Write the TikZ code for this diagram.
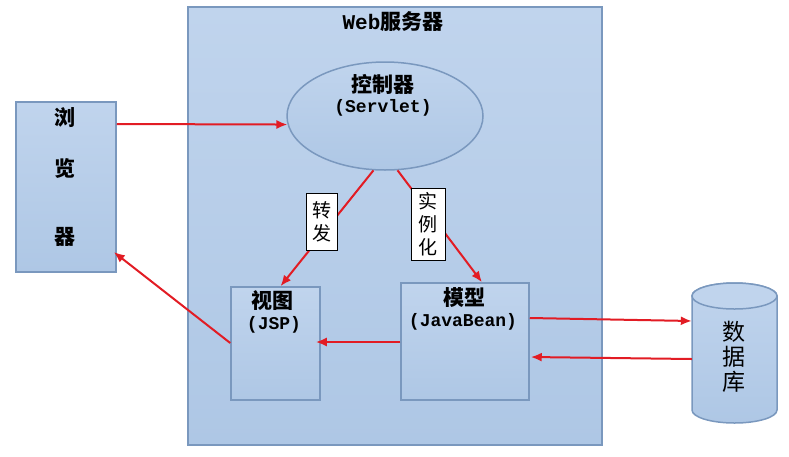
\documentclass[tikz,border=0pt]{standalone}
\usepackage{fontspec}
\setmainfont{Noto Sans CJK SC}
\newfontfamily\monofam{Liberation Mono}
\usetikzlibrary{arrows.meta,calc,shapes.geometric}
\definecolor{boxtop}{RGB}{192,212,237}
\definecolor{boxbot}{RGB}{174,199,229}
\definecolor{boxline}{RGB}{122,152,190}
\definecolor{arr}{RGB}{226,28,36}
\begin{document}
\begin{tikzpicture}[x=1pt,y=-1pt,
  blue box/.style={draw=boxline,line width=1.5pt,top color=boxtop,bottom color=boxbot,inner sep=0pt},
  cjkb/.style={font=\fontsize{21}{24}\selectfont\bfseries,inner sep=0pt},
  latin/.style={font=\fontsize{18}{20}\monofam\bfseries,inner sep=0pt},
  tag/.style={draw=black,line width=0.9pt,fill=white,inner sep=0pt,align=center,font=\fontsize{19}{23}\selectfont},
  conn/.style={draw=arr,line width=2pt,-{Latex[length=11pt,width=9pt]}}]
\useasboundingbox (0,0) rectangle (789,456);
% Web server
\node[blue box,minimum width=414pt,minimum height=438pt] (server) at (395,226) {};
\node[cjkb] (srvtitle) at (393,22) {{\monofam\bfseries Web}服务器};
% browser
\node[blue box,minimum width=100pt,minimum height=170pt] (browser) at (66,187) {};
\node[cjkb] (b1) at (65,118) {浏};
\node[cjkb] (b2) at (65,168) {览};
\node[cjkb] (b3) at (65,237) {器};
% controller
\node[blue box,ellipse,minimum width=196pt,minimum height=108pt] (ctrl) at (385,116) {};
\node[cjkb] (ctrlt) at (383,84) {控制器};
\node[latin] (ctrls) at (383,108) {(Servlet)};
% view
\node[blue box,minimum width=89pt,minimum height=113pt] (view) at (275.5,343.5) {};
\node[cjkb] (viewt) at (272,301) {视图};
\node[latin] (views) at (274,325) {(JSP)};
% model
\node[blue box,minimum width=128pt,minimum height=117pt] (model) at (465,341.5) {};
\node[cjkb] (modelt) at (464,298) {模型};
\node[latin] (models) at (463,322) {(JavaBean)};
% database
\fill[top color=boxtop,bottom color=boxbot]
  (692,296) -- (692,410) arc[start angle=180,end angle=360,x radius=42.5pt,y radius=13pt]
  -- (777,296) arc[start angle=0,end angle=180,x radius=42.5pt,y radius=13pt] -- cycle;
\draw[boxline,line width=1.5pt]
  (692,296) -- (692,410) arc[start angle=180,end angle=360,x radius=42.5pt,y radius=13pt]
  -- (777,296) arc[start angle=0,end angle=180,x radius=42.5pt,y radius=13pt];
\draw[boxline,line width=1.5pt,fill=boxtop] (734.5,296) ellipse[x radius=42.5pt,y radius=13pt];
\node[inner sep=0pt,minimum width=85pt,minimum height=140pt] (db) at (734.5,353) {};
\node[font=\fontsize{23}{25}\selectfont,inner sep=0pt,align=center] (dbt) at (734,357) {数\\据\\库};
% connectors
\draw[conn] (browser.east |- 0,124) -- (ctrl.185);
\draw[conn] (ctrl.258) -- ($(view.north)+(5,0)$);
\draw[conn] (ctrl.283) -- ($(model.north)+(17,0)$);
\draw[conn] (model.west |- 0,342) -- ($(view.east |- 0,342)+(-5,0)$);
\draw[conn] (view.west |- 0,343) -- ($(browser.east |- 0,252)+(-3,0)$);
\draw[conn] (model.east |- 0,318) -- (db.west |- 0,321);
\draw[conn] (db.west |- 0,359) -- ($(model.east |- 0,357)+(1,0)$);
% tags
\node[tag,minimum width=31pt,minimum height=57pt] (fwd) at (321.5,221.5) {转\\发};
\node[tag,minimum width=34pt,minimum height=72pt] (inst) at (428,224) {实\\例\\化};
\end{tikzpicture}
\end{document}
